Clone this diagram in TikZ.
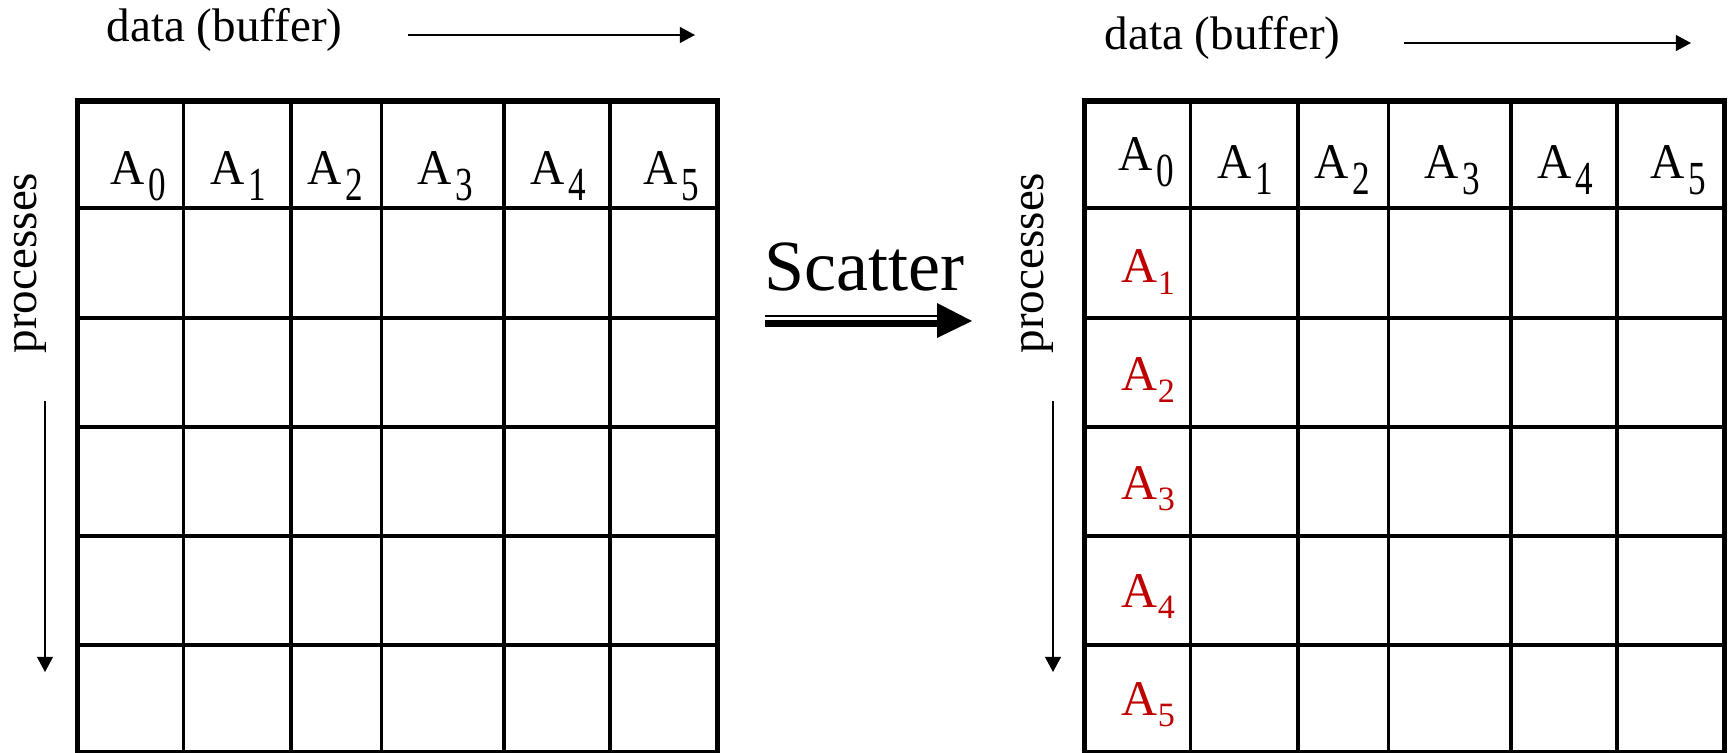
\documentclass[tikz,border=0pt]{standalone}
\usepackage{fontspec}
\setmainfont{Liberation Serif}
\usetikzlibrary{arrows.meta}
\definecolor{scarlet}{RGB}{192,0,0}

% column header: narrow A with a tall index
\newcommand{\collbl}[1]{\scalebox{0.95}[1]{A}\kern1pt\raisebox{-4.3pt}{\scalebox{1}[1.35]{\fontsize{10}{12}\selectfont #1}}}
% scattered piece in the first column
\newcommand{\rowlbl}[1]{A\raisebox{-3.4pt}{\fontsize{9.7}{11}\selectfont #1}}

\tikzset{
  frame/.style={line width=1.65pt},
  cell/.style={line width=0.95pt},
  axis/.style={line width=0.45pt,-{Triangle[length=4.3pt,width=4.5pt]}},
  lbl/.style={anchor=base west,inner sep=0pt,font=\fontsize{14.2}{17}\selectfont},
  note/.style={inner sep=0pt,font=\fontsize{13.4}{16}\selectfont},
}

\begin{document}
\begin{tikzpicture}[x=0.1mm,y=-0.1mm]
\useasboundingbox (0,0) rectangle (1730,753);

% the two 6x6 buffers, before and after
\foreach \dx in {0,1007}{
  \begin{scope}[xshift=\dx*0.1mm]
    \foreach \x in {183.5,291,381.5,504,610}
      \draw[cell] (\x,101) -- (\x,752.5);
    \foreach \y in {208,318,427,536,645}
      \draw[cell] (77.5,\y) -- (717.5,\y);
    \draw[frame] (77.5,101) rectangle (717.5,752.5);
  \end{scope}
}

% header row, left buffer
\foreach \i/\x in {0/110,1/210,2/307,3/417,4/530,5/643}
  \node[lbl] (hl\i) at (\x,185) {\collbl{\i}};

% header row, right buffer
\node[lbl] (hr0) at (1118,171) {\collbl{0}};
\foreach \i/\x in {1/1217,2/1314,3/1424,4/1537,5/1650}
  \node[lbl] (hr\i) at (\x,179) {\collbl{\i}};

% pieces sent to processes 1..5
\foreach \i/\y in {1/283,2/391,3/499,4/607,5/715}
  \node[lbl,text=scarlet] (sc\i) at (1121,\y) {\rowlbl{\i}};

% axis captions
\node[note,anchor=base west] (datal) at (106,42) {data (buffer)};
\node[note,anchor=base west] (datar) at (1104,50) {data (buffer)};
\node[note,rotate=90,anchor=base] (procl) at (37,263) {processes};
\node[note,rotate=90,anchor=base] (procr) at (1043,263) {processes};

\coordinate (dl0) at (408,35);   \coordinate (dl1) at (695,35);
\coordinate (dr0) at (1404,43);  \coordinate (dr1) at (1691,43);
\coordinate (pl0) at (45,401);   \coordinate (pl1) at (45,672);
\coordinate (pr0) at (1053,401); \coordinate (pr1) at (1053,672);
\draw[axis] (dl0) -- (dl1);
\draw[axis] (dr0) -- (dr1);
\draw[axis] (pl0) -- (pl1);
\draw[axis] (pr0) -- (pr1);

% the Scatter step
\node[anchor=base west,inner sep=0pt,font=\fontsize{20.5}{24}\selectfont] (scat) at (764,290) {Scatter};
\coordinate (st0) at (765,321);
\coordinate (st1) at (972,321);
\draw[line width=0.57pt] (765,316) -- (940,316);
\draw[line width=2pt] (765,323.5) -- (940,323.5);
\fill (937,303) -- (st1) -- (937,338) -- cycle;
\end{tikzpicture}
\end{document}
